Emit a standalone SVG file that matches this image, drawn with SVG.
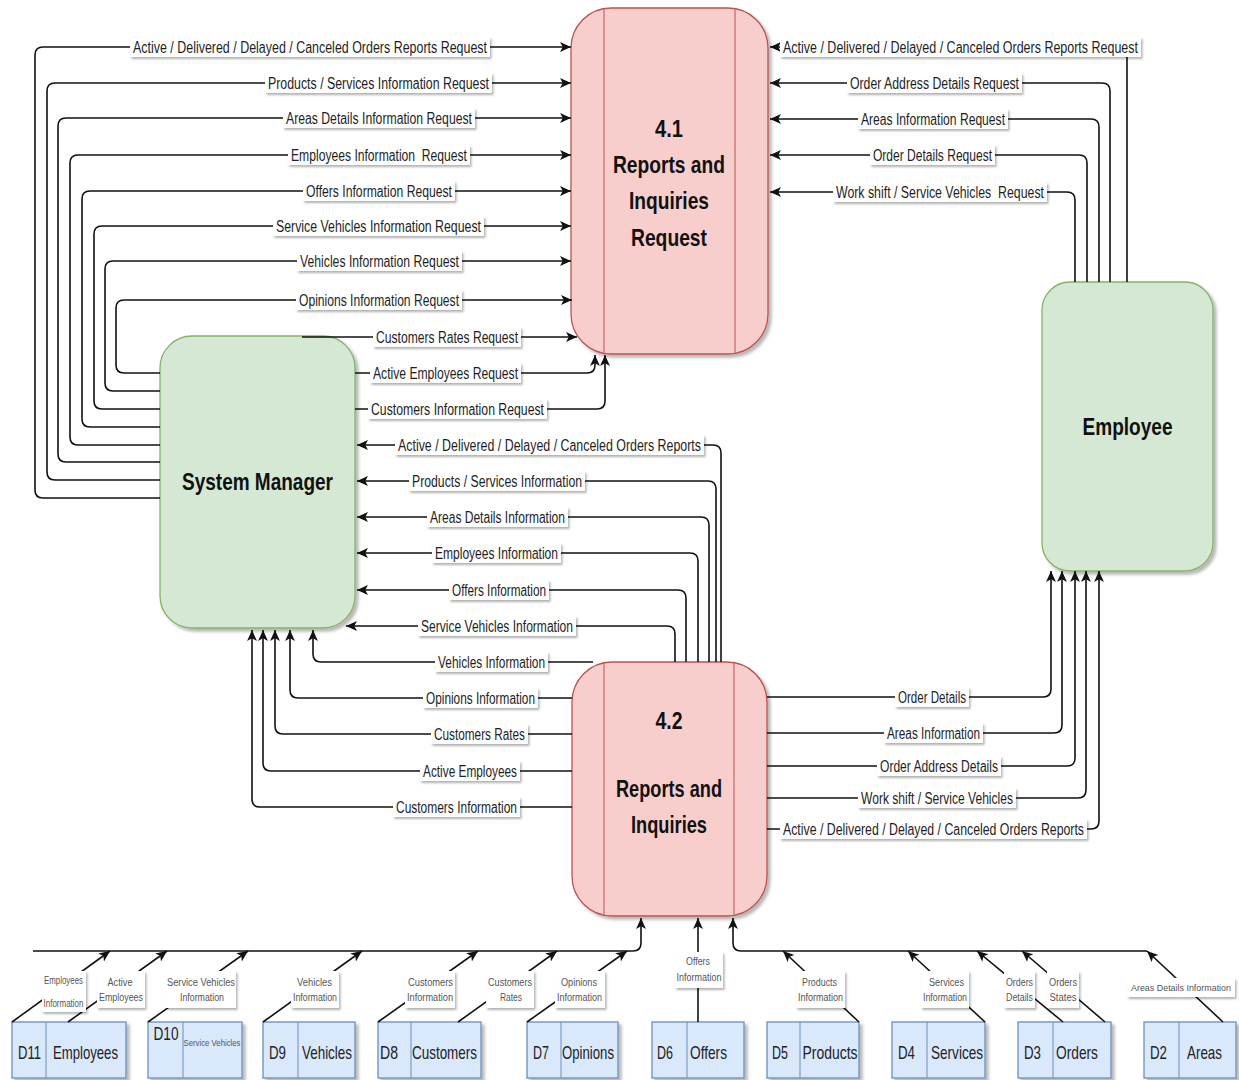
<svg xmlns="http://www.w3.org/2000/svg" width="1239" height="1080" viewBox="0 0 1239 1080">
<defs>
<style>
.ln{fill:none;stroke:#111;stroke-width:1.6}
.arr{marker-end:url(#ah)}
.lb{fill:#fff;filter:url(#lsh)}
.t{font-family:"Liberation Sans Narrow","Arial Narrow","Liberation Sans",Arial,sans-serif;font-size:16px;fill:#1e1e1e;text-anchor:middle}
.ts{font-family:"Liberation Sans Narrow","Arial Narrow","Liberation Sans",Arial,sans-serif;font-size:10px;fill:#555;text-anchor:middle}
.ttl{font-family:"Liberation Sans Narrow","Arial Narrow","Liberation Sans",Arial,sans-serif;font-weight:bold;font-size:24px;fill:#111;text-anchor:middle}
.st{font-family:"Liberation Sans Narrow","Arial Narrow","Liberation Sans",Arial,sans-serif;font-size:19px;fill:#222;text-anchor:middle}
.proc{fill:#f8cecc;stroke:#b85450;stroke-width:1.3;filter:url(#bsh)}
.pl{stroke:#b85450;stroke-width:1}
.ext{fill:#d5e8d4;stroke:#82b366;stroke-width:1.3;filter:url(#bsh)}
.store{fill:#dae8fc;stroke:#6c8ebf;stroke-width:1.3;filter:url(#bsh)}
.sl{stroke:#6c8ebf;stroke-width:1}
</style>
<filter id="bsh" x="-10%" y="-10%" width="130%" height="130%">
<feDropShadow dx="3" dy="3" stdDeviation="1.5" flood-color="#000" flood-opacity="0.28"/>
</filter>
<filter id="lsh" x="-10%" y="-20%" width="125%" height="160%">
<feDropShadow dx="1.5" dy="2" stdDeviation="0.8" flood-color="#000" flood-opacity="0.3"/>
</filter>
<marker id="ah" viewBox="0 0 10 10" refX="10" refY="5" markerWidth="11" markerHeight="11" markerUnits="userSpaceOnUse" orient="auto">
<path d="M0,0.5 L10,5 L0,9.5 L2.5,5 z" fill="#111"/>
</marker>
</defs>
<rect width="1239" height="1080" fill="#fff"/>

<!-- processes -->
<g id="p41">
<rect class="proc" x="571" y="8" width="197" height="346" rx="40"/>
<line class="pl" x1="604" y1="9" x2="604" y2="353"/>
<line class="pl" x1="735" y1="9" x2="735" y2="353"/>
<text class="ttl" x="669" y="136.5" textLength="28" lengthAdjust="spacingAndGlyphs">4.1</text>
<text class="ttl" x="669" y="172.5" textLength="112" lengthAdjust="spacingAndGlyphs">Reports and</text>
<text class="ttl" x="669" y="208.5" textLength="80" lengthAdjust="spacingAndGlyphs">Inquiries</text>
<text class="ttl" x="669" y="245.5" textLength="76" lengthAdjust="spacingAndGlyphs">Request</text>
</g>
<g id="p42">
<rect class="proc" x="572" y="662" width="195" height="254" rx="40"/>
<line class="pl" x1="604" y1="663" x2="604" y2="915"/>
<line class="pl" x1="734" y1="663" x2="734" y2="915"/>
<text class="ttl" x="669" y="728.5" textLength="27" lengthAdjust="spacingAndGlyphs">4.2</text>
<text class="ttl" x="669" y="796.5" textLength="106" lengthAdjust="spacingAndGlyphs">Reports and</text>
<text class="ttl" x="669" y="832.5" textLength="76" lengthAdjust="spacingAndGlyphs">Inquiries</text>
</g>

<!-- external entities -->
<g id="system-manager">
<rect class="ext" x="160" y="336" width="195" height="292" rx="32"/>
<text class="ttl" x="257.5" y="489.5" textLength="151" lengthAdjust="spacingAndGlyphs">System Manager</text>
</g>
<g id="employee">
<rect class="ext" x="1042" y="282" width="171" height="289" rx="28"/>
<text class="ttl" x="1127.5" y="435" textLength="90" lengthAdjust="spacingAndGlyphs">Employee</text>
</g>

<!-- data stores -->
<g id="d11"><rect class="store" x="12" y="1022" width="114" height="56"/><line class="sl" x1="46" y1="1022" x2="46" y2="1078"/>
<text class="st" x="29.5" y="1058.5" textLength="23" lengthAdjust="spacingAndGlyphs">D11</text><text class="st" x="85.5" y="1058.5" textLength="65" lengthAdjust="spacingAndGlyphs">Employees</text></g>
<g id="d10"><rect class="store" x="148" y="1022" width="94" height="56"/><line class="sl" x1="183" y1="1022" x2="183" y2="1078"/>
<text class="st" x="166" y="1040" textLength="25" lengthAdjust="spacingAndGlyphs">D10</text><text class="ts" x="212" y="1046" textLength="57" lengthAdjust="spacingAndGlyphs" style="font-size:9px">Service Vehicles</text></g>
<g id="d9"><rect class="store" x="263" y="1022" width="92" height="56"/><line class="sl" x1="298" y1="1022" x2="298" y2="1078"/>
<text class="st" x="277.5" y="1058.5" textLength="17" lengthAdjust="spacingAndGlyphs">D9</text><text class="st" x="327" y="1058.5" textLength="50" lengthAdjust="spacingAndGlyphs">Vehicles</text></g>
<g id="d8"><rect class="store" x="378" y="1022" width="103" height="56"/><line class="sl" x1="411" y1="1022" x2="411" y2="1078"/>
<text class="st" x="389" y="1058.5" textLength="18" lengthAdjust="spacingAndGlyphs">D8</text><text class="st" x="444.5" y="1058.5" textLength="65" lengthAdjust="spacingAndGlyphs">Customers</text></g>
<g id="d7"><rect class="store" x="527" y="1022" width="91" height="56"/><line class="sl" x1="561" y1="1022" x2="561" y2="1078"/>
<text class="st" x="541" y="1058.5" textLength="16" lengthAdjust="spacingAndGlyphs">D7</text><text class="st" x="588" y="1058.5" textLength="52" lengthAdjust="spacingAndGlyphs">Opinions</text></g>
<g id="d6"><rect class="store" x="652" y="1022" width="92" height="56"/><line class="sl" x1="687" y1="1022" x2="687" y2="1078"/>
<text class="st" x="665" y="1058.5" textLength="16" lengthAdjust="spacingAndGlyphs">D6</text><text class="st" x="708.5" y="1058.5" textLength="37" lengthAdjust="spacingAndGlyphs">Offers</text></g>
<g id="d5"><rect class="store" x="767" y="1022" width="92" height="56"/><line class="sl" x1="800" y1="1022" x2="800" y2="1078"/>
<text class="st" x="780" y="1058.5" textLength="16" lengthAdjust="spacingAndGlyphs">D5</text><text class="st" x="830" y="1058.5" textLength="55" lengthAdjust="spacingAndGlyphs">Products</text></g>
<g id="d4"><rect class="store" x="892" y="1022" width="93" height="56"/><line class="sl" x1="927" y1="1022" x2="927" y2="1078"/>
<text class="st" x="906.5" y="1058.5" textLength="17" lengthAdjust="spacingAndGlyphs">D4</text><text class="st" x="957" y="1058.5" textLength="52" lengthAdjust="spacingAndGlyphs">Services</text></g>
<g id="d3"><rect class="store" x="1018" y="1022" width="93" height="56"/><line class="sl" x1="1053" y1="1022" x2="1053" y2="1078"/>
<text class="st" x="1032.5" y="1058.5" textLength="17" lengthAdjust="spacingAndGlyphs">D3</text><text class="st" x="1077" y="1058.5" textLength="42" lengthAdjust="spacingAndGlyphs">Orders</text></g>
<g id="d2"><rect class="store" x="1144" y="1022" width="92" height="56"/><line class="sl" x1="1179" y1="1022" x2="1179" y2="1078"/>
<text class="st" x="1158.5" y="1058.5" textLength="17" lengthAdjust="spacingAndGlyphs">D2</text><text class="st" x="1204.5" y="1058.5" textLength="35" lengthAdjust="spacingAndGlyphs">Areas</text></g>

<!-- data flows -->
<g id="connectors">
<!-- System Manager to 4.1 -->
<path class="ln arr" d="M160 498 H43 Q35 498 35 490 V55 Q35 47 43 47 H571"/>
<path class="ln arr" d="M160 480 H55 Q47 480 47 472 V91 Q47 83 55 83 H571"/>
<path class="ln arr" d="M160 462 H66 Q58 462 58 454 V126 Q58 118 66 118 H571"/>
<path class="ln arr" d="M160 445 H78 Q70 445 70 437 V163 Q70 155 78 155 H571"/>
<path class="ln arr" d="M160 427 H90 Q82 427 82 419 V199 Q82 191 90 191 H571"/>
<path class="ln arr" d="M160 409 H102 Q94 409 94 401 V234 Q94 226 102 226 H571"/>
<path class="ln arr" d="M160 391 H113 Q105 391 105 383 V269 Q105 261 113 261 H571"/>
<path class="ln arr" d="M160 373 H124 Q116 373 116 365 V308 Q116 300 124 300 H572"/>
<path class="ln arr" d="M302 337 H577"/>
<path class="ln arr" d="M355 373 H587 Q595 373 595 365 V355"/>
<path class="ln arr" d="M355 409 H597 Q605 409 605 401 V355"/>
<!-- 4.2 to System Manager -->
<path class="ln arr" d="M721 662 V453 Q721 445 713 445 H357"/>
<path class="ln arr" d="M716 662 V489 Q716 481 708 481 H357"/>
<path class="ln arr" d="M709 662 V525 Q709 517 701 517 H357"/>
<path class="ln arr" d="M698 662 V561 Q698 553 690 553 H357"/>
<path class="ln arr" d="M686 662 V598 Q686 590 678 590 H357"/>
<path class="ln arr" d="M675 662 V634 Q675 626 667 626 H346"/>
<path class="ln arr" d="M593 662 H321 Q313 662 313 654 V630"/>
<path class="ln arr" d="M572 698 H298 Q290 698 290 690 V630"/>
<path class="ln arr" d="M572 734 H283 Q275 734 275 726 V630"/>
<path class="ln arr" d="M572 771 H271 Q263 771 263 763 V630"/>
<path class="ln arr" d="M572 807 H260 Q252 807 252 799 V630"/>
<!-- Employee to 4.1 -->
<path class="ln arr" d="M1127 282 V55 Q1127 47 1119 47 H770"/>
<path class="ln arr" d="M1110 282 V91 Q1110 83 1102 83 H770"/>
<path class="ln arr" d="M1099 282 V127 Q1099 119 1091 119 H770"/>
<path class="ln arr" d="M1087 282 V163 Q1087 155 1079 155 H770"/>
<path class="ln arr" d="M1075 282 V200 Q1075 192 1067 192 H770"/>
<!-- 4.2 to Employee -->
<path class="ln arr" d="M767 697 H1043 Q1051 697 1051 689 V571"/>
<path class="ln arr" d="M767 733 H1054 Q1062 733 1062 725 V571"/>
<path class="ln arr" d="M767 766 H1067 Q1075 766 1075 758 V571"/>
<path class="ln arr" d="M767 798 H1078 Q1086 798 1086 790 V571"/>
<path class="ln arr" d="M767 829 H1091 Q1099 829 1099 821 V571"/>
<!-- data stores to 4.2 -->
<path class="ln arr" d="M33 951 H633 Q641 951 641 943 V918"/>
<path class="ln arr" d="M1147 951 H741 Q733 951 733 943 V918"/>
<path class="ln arr" d="M698 1022 V918"/>
<path class="ln arr" d="M12 1022 L110 951"/>
<path class="ln arr" d="M68 1022 L167 951"/>
<path class="ln arr" d="M148 1022 L248 951"/>
<path class="ln arr" d="M263 1022 L362 951"/>
<path class="ln arr" d="M378 1022 L478 951"/>
<path class="ln arr" d="M458 1022 L557 951"/>
<path class="ln arr" d="M527 1022 L627 951"/>
<path class="ln arr" d="M859 1022 L783 951"/>
<path class="ln arr" d="M985 1022 L908 951"/>
<path class="ln arr" d="M1063 1022 L977 951"/>
<path class="ln arr" d="M1105 1022 L1022 951"/>
<path class="ln arr" d="M1223 1022 L1147 951"/>
</g>

<g id="flow-labels">
<rect class="lb" x="130" y="37" width="360" height="20"/><text class="t" x="310" y="52.5" textLength="354" lengthAdjust="spacingAndGlyphs">Active / Delivered / Delayed / Canceled Orders Reports Request</text>
<rect class="lb" x="265" y="73" width="227" height="20"/><text class="t" x="378.5" y="88.5" textLength="221" lengthAdjust="spacingAndGlyphs">Products / Services Information Request</text>
<rect class="lb" x="283" y="108" width="192" height="20"/><text class="t" x="379" y="123.5" textLength="186" lengthAdjust="spacingAndGlyphs">Areas Details Information Request</text>
<rect class="lb" x="288" y="145" width="182" height="20"/><text class="t" x="379" y="160.5" textLength="176" lengthAdjust="spacingAndGlyphs" xml:space="preserve">Employees Information  Request</text>
<rect class="lb" x="303" y="181" width="152" height="20"/><text class="t" x="379" y="196.5" textLength="146" lengthAdjust="spacingAndGlyphs">Offers Information Request</text>
<rect class="lb" x="273" y="216" width="211" height="20"/><text class="t" x="378.5" y="231.5" textLength="205" lengthAdjust="spacingAndGlyphs">Service Vehicles Information Request</text>
<rect class="lb" x="297" y="251" width="165" height="20"/><text class="t" x="379.5" y="266.5" textLength="159" lengthAdjust="spacingAndGlyphs">Vehicles Information Request</text>
<rect class="lb" x="296" y="290" width="166" height="20"/><text class="t" x="379" y="305.5" textLength="160" lengthAdjust="spacingAndGlyphs">Opinions Information Request</text>
<rect class="lb" x="373" y="327" width="148" height="20"/><text class="t" x="447" y="342.5" textLength="142" lengthAdjust="spacingAndGlyphs">Customers Rates Request</text>
<rect class="lb" x="370" y="363" width="151" height="20"/><text class="t" x="445.5" y="378.5" textLength="145" lengthAdjust="spacingAndGlyphs">Active Employees Request</text>
<rect class="lb" x="368" y="399" width="179" height="20"/><text class="t" x="457.5" y="414.5" textLength="173" lengthAdjust="spacingAndGlyphs">Customers Information Request</text>

<rect class="lb" x="395" y="435" width="309" height="20"/><text class="t" x="549.5" y="450.5" textLength="303" lengthAdjust="spacingAndGlyphs">Active / Delivered / Delayed / Canceled Orders Reports</text>
<rect class="lb" x="409" y="471" width="176" height="20"/><text class="t" x="497" y="486.5" textLength="170" lengthAdjust="spacingAndGlyphs">Products / Services Information</text>
<rect class="lb" x="427" y="507" width="141" height="20"/><text class="t" x="497.5" y="522.5" textLength="135" lengthAdjust="spacingAndGlyphs">Areas Details Information</text>
<rect class="lb" x="432" y="543" width="129" height="20"/><text class="t" x="496.5" y="558.5" textLength="123" lengthAdjust="spacingAndGlyphs">Employees Information</text>
<rect class="lb" x="449" y="580" width="100" height="20"/><text class="t" x="499" y="595.5" textLength="94" lengthAdjust="spacingAndGlyphs">Offers Information</text>
<rect class="lb" x="418" y="616" width="158" height="20"/><text class="t" x="497" y="631.5" textLength="152" lengthAdjust="spacingAndGlyphs">Service Vehicles Information</text>
<rect class="lb" x="435" y="652" width="113" height="20"/><text class="t" x="491.5" y="667.5" textLength="107" lengthAdjust="spacingAndGlyphs">Vehicles Information</text>
<rect class="lb" x="423" y="688" width="115" height="20"/><text class="t" x="480.5" y="703.5" textLength="109" lengthAdjust="spacingAndGlyphs">Opinions Information</text>
<rect class="lb" x="431" y="724" width="97" height="20"/><text class="t" x="479.5" y="739.5" textLength="91" lengthAdjust="spacingAndGlyphs">Customers Rates</text>
<rect class="lb" x="420" y="761" width="100" height="20"/><text class="t" x="470" y="776.5" textLength="94" lengthAdjust="spacingAndGlyphs">Active Employees</text>
<rect class="lb" x="393" y="797" width="127" height="20"/><text class="t" x="456.5" y="812.5" textLength="121" lengthAdjust="spacingAndGlyphs">Customers Information</text>

<rect class="lb" x="780" y="37" width="361" height="20"/><text class="t" x="960.5" y="52.5" textLength="355" lengthAdjust="spacingAndGlyphs">Active / Delivered / Delayed / Canceled Orders Reports Request</text>
<rect class="lb" x="847" y="73" width="175" height="20"/><text class="t" x="934.5" y="88.5" textLength="169" lengthAdjust="spacingAndGlyphs">Order Address Details Request</text>
<rect class="lb" x="858" y="109" width="150" height="20"/><text class="t" x="933" y="124.5" textLength="144" lengthAdjust="spacingAndGlyphs">Areas Information Request</text>
<rect class="lb" x="870" y="145" width="125" height="20"/><text class="t" x="932.5" y="160.5" textLength="119" lengthAdjust="spacingAndGlyphs">Order Details Request</text>
<rect class="lb" x="833" y="182" width="214" height="20"/><text class="t" x="940" y="197.5" textLength="208" lengthAdjust="spacingAndGlyphs" xml:space="preserve">Work shift / Service Vehicles  Request</text>

<rect class="lb" x="895" y="687" width="74" height="20"/><text class="t" x="932" y="702.5" textLength="68" lengthAdjust="spacingAndGlyphs">Order Details</text>
<rect class="lb" x="884" y="723" width="99" height="20"/><text class="t" x="933.5" y="738.5" textLength="93" lengthAdjust="spacingAndGlyphs">Areas Information</text>
<rect class="lb" x="877" y="756" width="124" height="20"/><text class="t" x="939" y="771.5" textLength="118" lengthAdjust="spacingAndGlyphs">Order Address Details</text>
<rect class="lb" x="858" y="788" width="158" height="20"/><text class="t" x="937" y="803.5" textLength="152" lengthAdjust="spacingAndGlyphs">Work shift / Service Vehicles</text>
<rect class="lb" x="780" y="819" width="307" height="20"/><text class="t" x="933.5" y="834.5" textLength="301" lengthAdjust="spacingAndGlyphs">Active / Delivered / Delayed / Canceled Orders Reports</text>

<!-- store flow labels -->
<rect class="lb" x="42" y="971" width="44" height="41"/><text class="ts" x="63.5" y="984" textLength="39" lengthAdjust="spacingAndGlyphs">Employees</text><text class="ts" x="63.5" y="1007" textLength="40" lengthAdjust="spacingAndGlyphs">Information</text>
<rect class="lb" x="97" y="971" width="48" height="37"/><text class="ts" x="120" y="986" textLength="25" lengthAdjust="spacingAndGlyphs">Active</text><text class="ts" x="121" y="1001" textLength="44" lengthAdjust="spacingAndGlyphs">Employees</text>
<rect class="lb" x="166" y="971" width="70" height="37"/><text class="ts" x="201" y="986" textLength="68" lengthAdjust="spacingAndGlyphs">Service Vehicles</text><text class="ts" x="202" y="1001" textLength="44" lengthAdjust="spacingAndGlyphs">Information</text>
<rect class="lb" x="291" y="971" width="48" height="37"/><text class="ts" x="314.5" y="986" textLength="35" lengthAdjust="spacingAndGlyphs">Vehicles</text><text class="ts" x="315" y="1001" textLength="44" lengthAdjust="spacingAndGlyphs">Information</text>
<rect class="lb" x="405" y="971" width="50" height="37"/><text class="ts" x="430.5" y="986" textLength="45" lengthAdjust="spacingAndGlyphs">Customers</text><text class="ts" x="430" y="1001" textLength="46" lengthAdjust="spacingAndGlyphs">Information</text>
<rect class="lb" x="486" y="971" width="48" height="37"/><text class="ts" x="510" y="986" textLength="44" lengthAdjust="spacingAndGlyphs">Customers</text><text class="ts" x="511" y="1001" textLength="22" lengthAdjust="spacingAndGlyphs">Rates</text>
<rect class="lb" x="555" y="971" width="50" height="37"/><text class="ts" x="579" y="986" textLength="36" lengthAdjust="spacingAndGlyphs">Opinions</text><text class="ts" x="579.5" y="1001" textLength="45" lengthAdjust="spacingAndGlyphs">Information</text>
<rect class="lb" x="675" y="952" width="48" height="36"/><text class="ts" x="698" y="965" textLength="24" lengthAdjust="spacingAndGlyphs">Offers</text><text class="ts" x="699" y="981" textLength="45" lengthAdjust="spacingAndGlyphs">Information</text>
<rect class="lb" x="796" y="971" width="49" height="37"/><text class="ts" x="819.5" y="986" textLength="35" lengthAdjust="spacingAndGlyphs">Products</text><text class="ts" x="820.5" y="1001" textLength="45" lengthAdjust="spacingAndGlyphs">Information</text>
<rect class="lb" x="921" y="971" width="48" height="37"/><text class="ts" x="946.5" y="986" textLength="35" lengthAdjust="spacingAndGlyphs">Services</text><text class="ts" x="945" y="1001" textLength="44" lengthAdjust="spacingAndGlyphs">Information</text>
<rect class="lb" x="1004" y="971" width="31" height="37"/><text class="ts" x="1019.5" y="986" textLength="27" lengthAdjust="spacingAndGlyphs">Orders</text><text class="ts" x="1019.5" y="1001" textLength="27" lengthAdjust="spacingAndGlyphs">Details</text>
<rect class="lb" x="1047" y="971" width="32" height="37"/><text class="ts" x="1063" y="986" textLength="28" lengthAdjust="spacingAndGlyphs">Orders</text><text class="ts" x="1063" y="1001" textLength="27" lengthAdjust="spacingAndGlyphs">States</text>
<rect class="lb" x="1127" y="978" width="108" height="19"/><text class="ts" x="1181" y="991" textLength="100" lengthAdjust="spacingAndGlyphs" style="font-size:9px">Areas Details Information</text>
</g>
</svg>
